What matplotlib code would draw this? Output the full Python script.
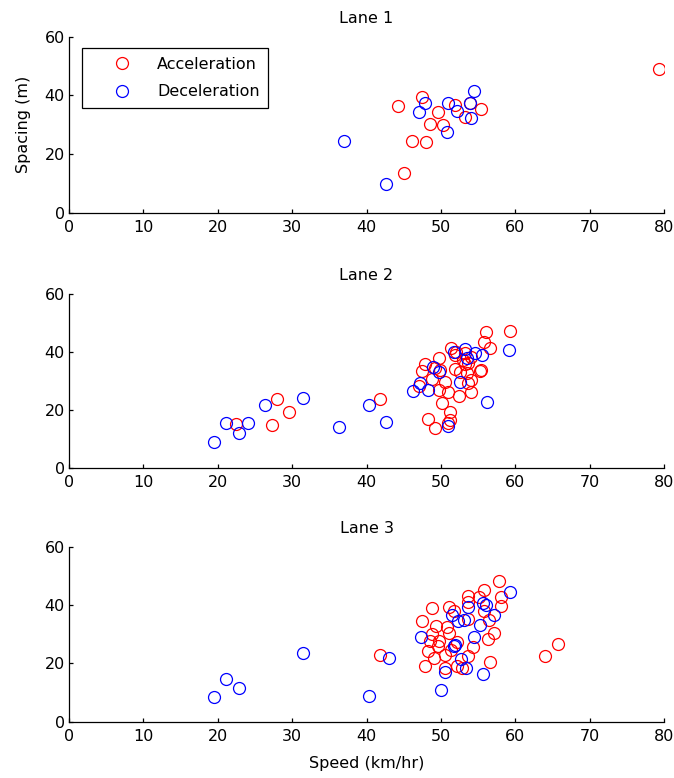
import numpy as np
import matplotlib.pyplot as plt

# Lane 1
lane1_acc_speed = [44.2, 47.5, 49.6, 48.5, 50.3, 46.1, 48.0, 45.0, 51.9, 53.3, 55.4, 53.9, 79.3]
lane1_acc_space = [36.4, 39.5, 34.2, 30.2, 30.0, 24.5, 24.1, 13.6, 36.8, 32.7, 35.3, 37.3, 49.0]
lane1_dec_speed = [37.0, 42.6, 47.1, 47.9, 51.0, 52.1, 50.8, 53.9, 54.0, 54.5]
lane1_dec_space = [24.4, 9.7, 34.3, 37.3, 37.3, 34.8, 27.5, 37.3, 32.4, 41.6]

# Lane 2
lane2_acc_speed = [22.4, 27.9, 27.3, 29.6, 41.8, 59.3, 56.0, 55.8, 56.6,
                   51.3, 51.9, 49.8, 47.9, 47.5, 49.2, 49.9, 53.2, 53.0, 53.7,
                   54.1, 55.2, 51.9, 52.6, 53.5, 48.8, 50.6, 54.1, 53.7, 47.0,
                   49.8, 51.0, 52.5, 54.0, 50.1, 51.2, 51.2, 48.3, 49.2, 51.0,
                   55.4, 53.2, 52.0]
lane2_acc_space = [15.1, 23.6, 14.7, 19.1, 23.7, 47.3, 46.9, 43.5, 41.5,
                   41.2, 39.0, 37.8, 35.8, 33.5, 34.3, 33.7, 39.5, 37.2, 36.3,
                   38.4, 33.4, 34.0, 33.2, 32.6, 30.5, 29.7, 30.3, 29.2, 28.2,
                   26.8, 26.3, 24.8, 26.3, 22.2, 19.3, 16.5, 16.7, 13.8, 15.6,
                   33.7, 35.7, 40.1]
lane2_dec_speed = [19.5, 21.1, 22.8, 24.0, 26.3, 31.4, 36.3, 40.3, 42.6, 56.2, 59.1,
                   46.3, 47.2, 48.3, 49.0, 49.8, 51.7, 53.2, 53.5, 54.6, 55.5,
                   52.6, 50.9]
lane2_dec_space = [9.0, 15.5, 12.1, 15.5, 21.5, 24.1, 14.2, 21.7, 15.7, 22.6, 40.7,
                   26.5, 29.2, 26.8, 34.9, 33.2, 40.1, 40.9, 37.8, 39.5, 38.9,
                   29.6, 14.4]

# Lane 3
lane3_acc_speed = [41.8, 64.0, 65.7, 57.8, 55.8, 53.6, 55.1, 58.1, 58.1, 53.6,
                   51.1, 48.8, 51.7, 55.8, 47.4, 53.7, 56.5, 49.4, 50.8, 48.8,
                   51.1, 57.2, 56.4, 48.5, 49.7, 52.1, 49.6, 48.2, 51.4, 54.3,
                   50.5, 49.1, 53.7, 56.6, 47.8, 50.5, 52.1, 52.9]
lane3_acc_space = [22.9, 22.4, 26.7, 48.3, 45.2, 43.1, 42.8, 42.8, 39.7, 41.2,
                   39.3, 38.9, 37.9, 37.9, 34.5, 35.1, 34.7, 32.7, 32.4, 29.9,
                   30.4, 30.4, 28.5, 27.8, 27.8, 27.3, 25.8, 24.3, 24.7, 25.5,
                   22.9, 21.8, 22.4, 20.6, 19.2, 18.3, 19.2, 18.3]
lane3_dec_speed = [19.5, 21.1, 22.8, 31.4, 40.3, 43.0, 50.0, 50.5, 47.3, 55.6,
                   59.3, 53.6, 55.6, 56.0, 57.1, 55.2, 51.5, 52.3, 53.1, 54.5,
                   51.7, 51.9, 52.7, 53.4]
lane3_dec_space = [8.4, 14.8, 11.4, 23.4, 8.8, 22.0, 10.8, 17.2, 28.9, 16.4,
                   44.3, 39.3, 40.8, 39.9, 36.6, 33.3, 36.6, 34.5, 34.7, 28.9,
                   25.8, 26.4, 21.6, 18.3]

lanes = [
    ("Lane 1", lane1_acc_speed, lane1_acc_space, lane1_dec_speed, lane1_dec_space),
    ("Lane 2", lane2_acc_speed, lane2_acc_space, lane2_dec_speed, lane2_dec_space),
    ("Lane 3", lane3_acc_speed, lane3_acc_space, lane3_dec_speed, lane3_dec_space),
]

plt.rcParams['font.family'] = ['DejaVu Sans']
FS = 11.5

fig = plt.figure(figsize=(6.74, 7.78), dpi=100)
boxes = [
    [0.1024, 0.7266, 0.8828, 0.2262],
    [0.1024, 0.3988, 0.8828, 0.2233],
    [0.1024, 0.0724, 0.8828, 0.2249],
]

for i, (title, xa, ya, xd, yd) in enumerate(lanes):
    ax = fig.add_axes(boxes[i])
    ax.plot(xa, ya, 'o', mfc='none', mec='#ff0000', ms=8.6, mew=0.9, label="Acceleration")
    ax.plot(xd, yd, 'o', mfc='none', mec='#0000ff', ms=8.6, mew=0.9, label="Deceleration")
    ax.set_xlim(0, 80)
    ax.set_ylim(0, 60)
    ax.set_xticks(np.arange(0, 81, 10))
    ax.set_yticks([0, 20, 40, 60])
    ax.spines['top'].set_visible(False)
    ax.spines['right'].set_visible(False)
    for s in ['left', 'bottom']:
        ax.spines[s].set_linewidth(0.9)
    ax.tick_params(direction='in', length=3, width=0.9, labelsize=FS)
    ax.tick_params(axis='x', pad=5)
    ax.tick_params(axis='y', pad=3)
    ax.set_title(title, fontsize=FS, pad=10)
    if i == 0:
        ax.set_ylabel("Spacing (m)", fontsize=FS, labelpad=10)
        leg = ax.legend(loc='upper left', bbox_to_anchor=(0.0213, 0.9375),
                        borderaxespad=0, borderpad=0.55, handlelength=3.9,
                        handletextpad=0.26, labelspacing=0.8, fontsize=FS,
                        fancybox=False, framealpha=1, edgecolor='black', numpoints=1)
        leg.get_frame().set_linewidth(0.9)
    if i == 2:
        ax.set_xlabel("Speed (km/hr)", fontsize=FS, labelpad=9)

fig.savefig("out.png", dpi=100)
